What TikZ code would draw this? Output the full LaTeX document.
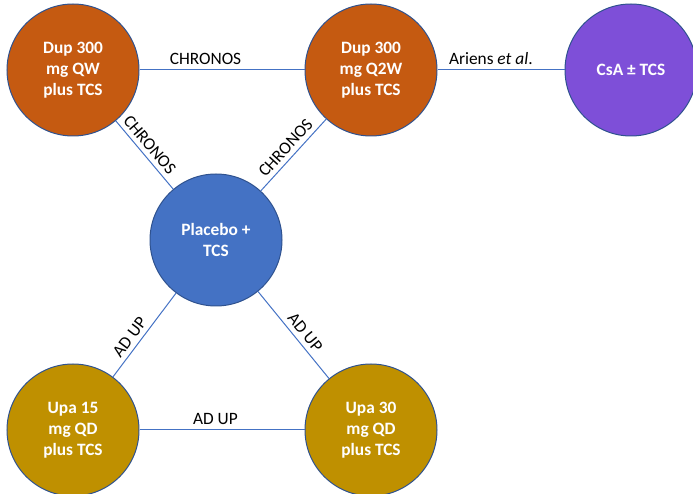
\documentclass[tikz,border=0pt]{standalone}
\usepackage{fontspec}
\setmainfont{Carlito}
\usetikzlibrary{positioning}

\definecolor{dupcol}{HTML}{C55A11}
\definecolor{placcol}{HTML}{4472C4}
\definecolor{upacol}{HTML}{BF9000}
\definecolor{csacol}{HTML}{7E4FD8}
\definecolor{rimcol}{HTML}{2F528F}
\definecolor{linkcol}{HTML}{4472C4}

\tikzset{
  arm/.style={circle, draw=rimcol, line width=0.75pt, minimum size=99pt, inner sep=0pt,
    align=center, text=white, font=\bfseries\fontsize{13}{15.9}\selectfont},
  link/.style={draw=linkcol, line width=0.75pt},
  trial/.style={font=\fontsize{13}{15.9}\selectfont, text=black}
}

\begin{document}
\begin{tikzpicture}
    \useasboundingbox (0,0) rectangle (519.75pt,369.75pt);

    \node[arm, fill=dupcol] (dupqw) at (54.75pt,317.25pt) {Dup 300\\mg QW\\plus TCS};
    \node[arm, fill=dupcol, right = 123.75pt of dupqw] (dupqtw) {Dup 300\\mg Q2W\\plus TCS};
    \node[arm, fill=csacol, right = 95.25pt of dupqtw] (csa) {CsA ± TCS};
    \node[arm, fill=placcol] (placebo) at (162pt,189.75pt) {Placebo +\\TCS};
    \node[arm, fill=upacol, below = 170.25pt of dupqw] (upa15) {Upa 15\\mg QD\\plus TCS};
    \node[arm, fill=upacol, right = 123.75pt of upa15] (upa30) {Upa 30\\mg QD\\plus TCS};

    \draw[link] (dupqw) -- node[trial, pos=0.4, above] {CHRONOS} (dupqtw);
    \draw[link] (dupqtw) -- node[trial, pos=0.42, above] {Ariens \textit{et al}.} (csa);
    \draw[link] (dupqw) -- node[trial, pos=0.45, above, sloped] {CHRONOS} (placebo);
    \draw[link] (placebo) -- node[trial, midway, above, sloped] {CHRONOS} (dupqtw);

    \draw[link] (upa15) -- node[trial, pos=0.4, above, sloped] {AD UP} (placebo);
    \draw[link] (placebo) -- node[trial, pos=0.55, above, sloped] {AD UP} (upa30);
    \draw[link] (upa15) -- node[trial, pos=0.46, above] {AD UP} (upa30);
\end{tikzpicture}
\end{document}
